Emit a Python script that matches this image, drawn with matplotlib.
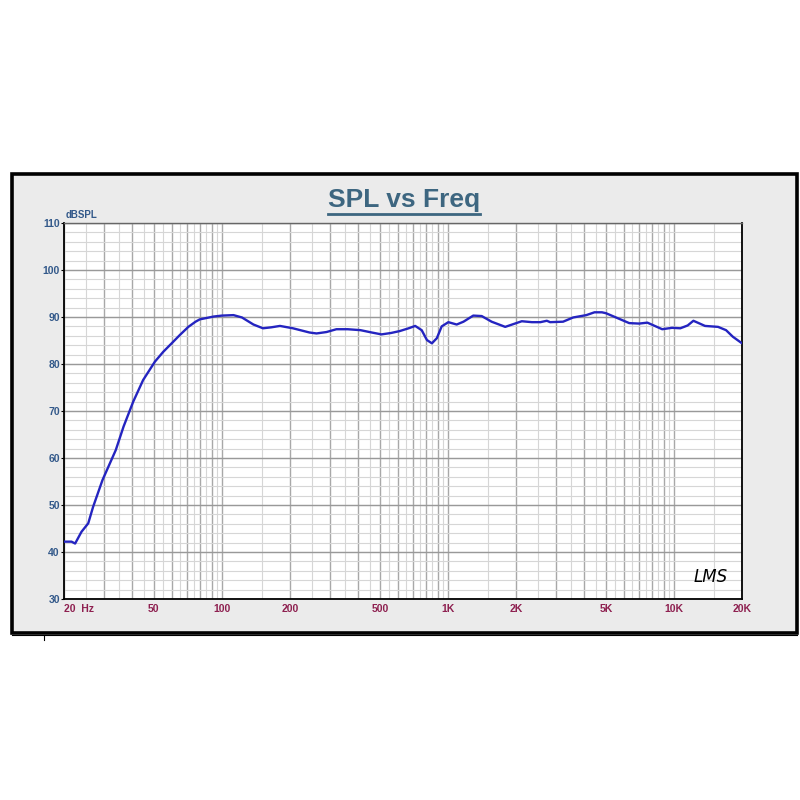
import matplotlib
matplotlib.use("Agg")
import matplotlib.pyplot as plt
from matplotlib.lines import Line2D
from matplotlib.patches import Rectangle
from matplotlib.ticker import FixedLocator, NullFormatter

# === Data ===
freq = [20, 21.6, 22.4, 23.9, 25.6, 26.9, 29.6, 33.9, 36.7, 40.5, 44.8, 50.5, 55,
        59.9, 65.2, 71, 76.4, 79.8, 91.9, 100, 112.5, 122.6, 137.8, 151.8, 165, 180.6, 206,
        244, 262, 290, 321, 360, 410, 460, 508, 560, 611, 670, 716, 765, 807, 849,
        893, 938, 1004, 1093, 1171, 1294, 1410, 1560, 1792, 1950, 2122, 2350, 2564,
        2738, 2831, 3230, 3581, 4093, 4450, 4800, 5006, 5729, 6338, 7014, 7626, 8871,
        9806, 10670, 11500, 12190, 13720, 15670, 17000, 18220, 20000]
spl = [42.2, 42.2, 41.8, 44.3, 46.1, 49.6, 55.3, 61.7, 66.7, 72.0, 76.6, 80.5, 82.6,
       84.4, 86.2, 87.9, 89.0, 89.5, 90.1, 90.3, 90.4, 89.9, 88.4, 87.6, 87.8, 88.1, 87.6,
       86.7, 86.5, 86.8, 87.4, 87.4, 87.2, 86.7, 86.3, 86.6, 87.0, 87.6, 88.1, 87.2,
       85.1, 84.4, 85.5, 88.0, 88.9, 88.4, 89.0, 90.3, 90.2, 89.0, 87.9, 88.5, 89.1,
       88.9, 88.9, 89.2, 88.9, 89.0, 89.9, 90.4, 91.0, 91.0, 90.8, 89.6, 88.7, 88.6,
       88.8, 87.4, 87.7, 87.6, 88.2, 89.2, 88.1, 87.9, 87.2, 85.8, 84.4]

xtick_vals = [20, 50, 100, 200, 500, 1000, 2000, 5000, 10000, 20000]
xtick_labels = ["20  Hz", "50", "100", "200", "500", "1K", "2K", "5K", "10K", "20K"]
ytick_vals = [30, 40, 50, 60, 70, 80, 90, 100, 110]

# grid line positions: integer multiples darker, half steps lighter
decades = [10, 100, 1000, 10000]
x_major_grid = [m * d for d in decades for m in range(1, 10) if 20 <= m * d <= 20000]
x_minor_grid = [(m + 0.5) * d for d in decades for m in range(1, 10) if 20 <= (m + 0.5) * d <= 20000]
y_minor_grid = list(range(30, 111, 2))

TITLE_COLOR = "#3d6680"
YLAB_COLOR = "#33598a"
XLAB_COLOR = "#8e2050"
CURVE_COLOR = "#2424c0"

fig = plt.figure(figsize=(8, 8), dpi=100)
fig.patch.set_facecolor("white")

# gray panel with thick black frame
panel = Rectangle((0.015, 0.20875), 0.981, 0.574, transform=fig.transFigure,
                  facecolor="#ebebeb", edgecolor="black", linewidth=2.6, zorder=-10)
fig.patches.append(panel)
fig.lines.append(Line2D([0.015, 0.996], [0.2065, 0.2065], transform=fig.transFigure,
                        color="black", linewidth=0.8, zorder=-10))
fig.lines.append(Line2D([0.055, 0.055], [0.2065, 0.2005], transform=fig.transFigure,
                        color="black", linewidth=0.8, zorder=-10))

ax = fig.add_axes([0.08, 0.25125, 0.8475, 0.47])
ax.set_zorder(5)
ax.set_facecolor("white")
ax.set_xscale("log")
ax.set_xlim(20, 20000)
ax.set_ylim(30, 110)

# grid
for f in x_minor_grid:
    ax.axvline(f, color="#d6d6d6", linewidth=0.8, zorder=1)
for f in x_major_grid:
    ax.axvline(f, color="#a8a8a8", linewidth=1.0, zorder=1)
for v in y_minor_grid:
    ax.axhline(v, color="#d6d6d6", linewidth=0.8, zorder=1)
for v in ytick_vals:
    ax.axhline(v, color="#999999", linewidth=1.0, zorder=1)

ax.plot(freq, spl, color=CURVE_COLOR, linewidth=1.7, zorder=3,
        solid_joinstyle="round", solid_capstyle="round")

# ticks
ax.xaxis.set_major_locator(FixedLocator(xtick_vals))
ax.xaxis.set_minor_locator(FixedLocator([]))
ax.xaxis.set_minor_formatter(NullFormatter())
ax.set_xticklabels(xtick_labels)
ax.set_yticks(ytick_vals)
ax.set_yticklabels([str(v) for v in ytick_vals])
ax.tick_params(axis="x", length=0, pad=3.5, labelsize=7.5, labelcolor=XLAB_COLOR)
ax.tick_params(axis="y", length=2, pad=1, labelsize=7.5, labelcolor=YLAB_COLOR)
for lbl in ax.get_xticklabels():
    lbl.set_fontweight("bold")
    lbl.set_family("Liberation Sans")
ax.get_xticklabels()[0].set_ha("left")
for lbl in ax.get_yticklabels():
    lbl.set_fontweight("bold")
    lbl.set_family("Liberation Sans")

for side in ["left", "bottom", "right"]:
    ax.spines[side].set_color("black")
    ax.spines[side].set_linewidth(1.3)
ax.spines["top"].set_color("#666666")
ax.spines["top"].set_linewidth(1.0)

ax.text(0.003, 1.008, "dBSPL", transform=ax.transAxes, ha="left", va="bottom",
        fontsize=7, fontweight="bold", color=YLAB_COLOR, family="Liberation Sans")

ax.text(0.953, 0.058, "LMS", transform=ax.transAxes, ha="center", va="center",
        fontsize=12, style="italic", color="black", family="DejaVu Sans",
        fontweight="light", zorder=4)

# title with underline
title = fig.text(0.505, 0.75, "SPL vs Freq", ha="center", va="center",
                 fontsize=19, fontweight="bold", color=TITLE_COLOR,
                 family="Liberation Sans")
fig.canvas.draw()
bb = title.get_window_extent().transformed(fig.transFigure.inverted())
fig.lines.append(Line2D([bb.x0, bb.x1], [bb.y0 - 0.002, bb.y0 - 0.002],
                        transform=fig.transFigure, color=TITLE_COLOR, linewidth=2))

fig.savefig("out.png", dpi=100, facecolor=fig.get_facecolor())
